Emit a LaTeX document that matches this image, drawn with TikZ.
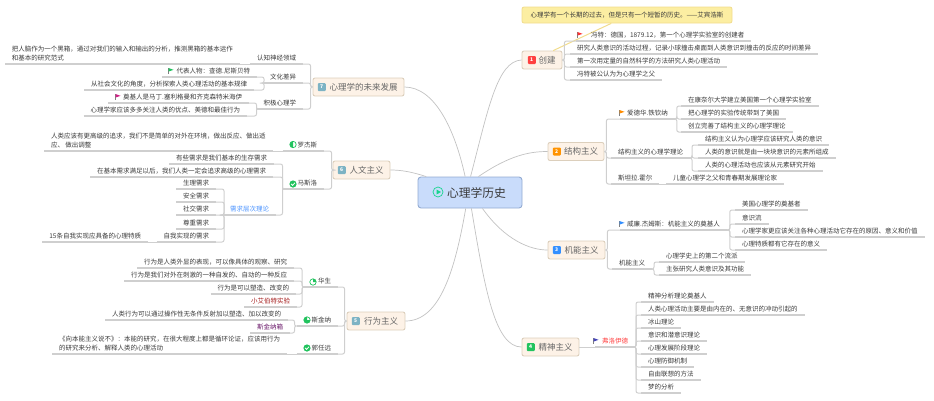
\documentclass[tikz,border=0pt]{standalone}
\usepackage{fontspec}
\setmainfont{Noto Sans CJK SC}
\definecolor{textgray}{HTML}{3A3A3A}
\definecolor{boxtext}{HTML}{666666}
\definecolor{linegray}{HTML}{CFCFCF}
\definecolor{curvegray}{HTML}{C2C2C2}
\definecolor{boxfill}{HTML}{FDF2E7}
\definecolor{boxline}{HTML}{DCCFBC}
\definecolor{mainfill}{HTML}{C9DCFB}
\definecolor{mainline}{HTML}{93ABD2}
\definecolor{notefill}{HTML}{FCEEA2}
\definecolor{noteline}{HTML}{F1DC8C}
\definecolor{iconteal}{HTML}{7DB3C4}
\definecolor{icongreen}{HTML}{22C35E}
\tikzset{
	underlined/.style={font=\fontsize{6.5pt}{9pt}\selectfont, text=textgray, inner xsep=7pt, inner ysep=2.5pt, outer sep=0pt,
		append after command={(\tikzlastnode.south west) edge[draw=linegray, line width=1.1pt] (\tikzlastnode.south east)}},
	leaf/.style={underlined, text height=5.5pt, text depth=1pt},
	twolines/.style={underlined, align=left},
	topic/.style={draw=boxline, line width=.9pt, fill=boxfill, rounded corners=2pt, text=boxtext, font=\fontsize{8.5pt}{10pt}\selectfont, minimum height=18pt, inner sep=0pt},
	marker/.style={rounded corners=1pt, minimum size=8pt, inner sep=0pt, text=white, font=\fontsize{5pt}{6pt}\bfseries\selectfont, anchor=west},
	link/.style={draw=linegray, line width=1pt, rounded corners=2pt},
	curve/.style={draw=curvegray, line width=.7pt},
	flagicon/.pic={
		\draw[gray, line width=.3pt] (-2.5,-3) -- (-2.5,3);
		\fill[#1] (-2.5,-3) -- (2.5,-1.2) -- (-2.5,.6) -- cycle;
	},
	pieicon/.pic={
		\draw[icongreen, line width=.7pt, fill=white] (0,0) circle (3.2pt);
		\fill[icongreen] (0,0) -- (0,-3.2) arc[start angle=90, end angle=#1, radius=3.2pt] -- cycle;
	},
	checkicon/.pic={
		\fill[icongreen] (0,0) circle (3.6pt);
		\draw[white, line width=.8pt] (-1.8,0) -- (-.4,1.4) -- (1.9,-1.2);
	}
}
\begin{document}
\begin{tikzpicture}[x=1pt,y=-1pt]
\useasboundingbox (0,0) rectangle (934,400);
\path
	(470,192.5) node [draw=mainline, line width=.9pt, fill=mainfill, rounded corners=3pt, minimum width=104pt, minimum height=31pt, inner sep=0pt, text=textgray, font=\fontsize{11.8pt}{13pt}\selectfont] (mainbox) {\hspace*{13pt}心理学历史}
	(627,15) node [draw=noteline, line width=.8pt, fill=notefill, rounded corners=2pt, minimum width=210pt, minimum height=16pt, inner sep=0pt, text=textgray, font=\fontsize{6.5pt}{8pt}\selectfont] (note) {心理学有一个长期的过去，但是只有一个短暂的历史。——艾宾浩斯}
	(542,60) node [topic, minimum width=40pt] (chuang) {\hspace*{10pt}创建}
	(576,151.5) node [topic, minimum width=56pt] (jiegou) {\hspace*{10pt}结构主义}
	(576.5,250) node [topic, minimum width=57pt] (jineng) {\hspace*{10pt}机能主义}
	(550.5,347) node [topic, minimum width=57pt] (jingshen) {\hspace*{10pt}精神主义}
	(376,321) node [topic, minimum width=58pt] (xingwei) {\hspace*{10pt}行为主义}
	(361.5,170) node [topic, minimum width=57pt] (renwen) {\hspace*{10pt}人文主义}
	(358.5,87) node [topic, minimum width=91pt] (weilai) {\hspace*{10pt}心理学的未来发展};
\path
	([xshift=6pt]chuang.west) node [marker, fill=red!75!white] (mark1) {1}
	([xshift=5pt]jiegou.west) node [marker, fill=orange!85!yellow] (mark2) {2}
	([xshift=5pt]jineng.west) node [marker, fill=blue!55!cyan!80!white] (mark3) {3}
	([xshift=5pt]jingshen.west) node [marker, fill=icongreen] (mark4) {4}
	([xshift=5pt]xingwei.west) node [marker, fill=iconteal] (mark5) {5}
	([xshift=5pt]renwen.west) node [marker, fill=iconteal] (mark6) {6}
	([xshift=5pt]weilai.west) node [marker, fill=iconteal] (mark7) {7};
\draw[icongreen!70!cyan, line width=.7pt] (438,192) circle (5pt);
\fill[icongreen!70!cyan] (436.5,189.5) -- (441,192) -- (436.5,194.5) -- cycle;

\draw[curve] (mainbox.88) .. controls (488,110) and (497,61) .. (chuang.west);
\draw[curve] (mainbox.62) .. controls (510,155) and (530,151.5) .. (jiegou.west);
\draw[curve] (mainbox.-52) .. controls (505,240) and (530,250) .. (jineng.west);
\draw[curve] (mainbox.-85) .. controls (485,290) and (495,347) .. (jingshen.west);
\draw[curve] (mainbox.-105) .. controls (455,270) and (440,321) .. (xingwei.east);
\draw[curve] (mainbox.160) .. controls (412,172) and (402,170) .. (renwen.east);
\draw[curve] (mainbox.107) .. controls (455,130) and (435,87) .. (weilai.east);
\draw[noteline, line width=1pt] (chuang.40) -- (note.208);

\path
	(576,41) node [leaf, anchor=south west] (wundt) {\hspace*{8pt}冯特：德国，1879.12，第一个心理学实验室的创建者}
	(570,54) node [leaf, anchor=south west] (wa) {研究人类意识的活动过程，记录小球撞击桌面到人类意识到撞击的反应的时间差异}
	(570,67) node [leaf, anchor=south west] (wb) {第一次用定量的自然科学的方法研究人类心理活动}
	(570,80) node [leaf, anchor=south west] (wc) {冯特被公认为为心理学之父};
\draw[link] (chuang.east) -- ++(2,0) |- (wundt.south west);
\draw[link] (chuang.east) -- ++(2,0) |- (wa.south west);
\draw[link] (chuang.east) -- ++(2,0) |- (wb.south west);
\draw[link] (chuang.east) -- ++(2,0) |- (wc.south west);
\pic at (580,35) {flagicon=red!80!white};

\path
	(620,119) node [leaf, anchor=south west] (titch) {爱德华.铁钦纳}
	(681,106) node [leaf, anchor=south west] (ta) {在康奈尔大学建立美国第一个心理学实验室}
	(681,119) node [leaf, anchor=south west] (tb) {把心理学的实验传统带到了美国}
	(681,132) node [leaf, anchor=south west] (tc) {创立完善了结构主义的心理学理论}
	(611,158) node [leaf, anchor=south west] (theory) {结构主义的心理学理论}
	(698,145) node [leaf, anchor=south west] (tha) {结构主义认为心理学应该研究人类的意识}
	(698,158) node [leaf, anchor=south west] (thb) {人类的意识就是由一块块意识的元素所组成}
	(698,171) node [leaf, anchor=south west] (thc) {人类的心理活动也应该从元素研究开始}
	(611,184) node [leaf, anchor=south west] (hall) {斯坦拉.霍尔}
	(666,184) node [leaf, anchor=south west] (halla) {儿童心理学之父和青春期发展理论家};
\draw[link] (jiegou.east) -- ++(2,0) |- (titch.south west);
\draw[link] (jiegou.east) -- ++(2,0) |- (theory.south west);
\draw[link] (jiegou.east) -- ++(2,0) |- (hall.south west);
\draw[link] (titch.south east) -- ++(2,0) |- (ta.south west);
\draw[link] (titch.south east) -- ++(2,0) |- (tb.south west);
\draw[link] (titch.south east) -- ++(2,0) |- (tc.south west);
\draw[link] (theory.south east) -- ++(2,0) |- (tha.south west);
\draw[link] (theory.south east) -- ++(2,0) |- (thb.south west);
\draw[link] (theory.south east) -- ++(2,0) |- (thc.south west);
\draw[link] (hall.south east) -- (halla.south west);
\pic at (622,113) {flagicon=orange!90!yellow};

\path
	(620,230) node [leaf, anchor=south west] (james) {威廉.杰姆斯：机能主义的奠基人}
	(735,210) node [leaf, anchor=south west] (ja) {美国心理学的奠基者}
	(735,224) node [leaf, anchor=south west] (jb) {意识流}
	(735,237) node [leaf, anchor=south west] (jc) {心理学家更应该关注各种心理活动它存在的原因、意义和价值}
	(735,250) node [leaf, anchor=south west] (jd) {心理特质都有它存在的意义}
	(612,269) node [leaf, anchor=south west] (func) {机能主义}
	(659,262) node [leaf, anchor=south west] (fa) {心理学史上的第二个流派}
	(659,275) node [leaf, anchor=south west] (fb) {主张研究人类意识及其功能};
\draw[link] (jineng.east) -- ++(2,0) |- (james.south west);
\draw[link] (jineng.east) -- ++(2,0) |- (func.south west);
\draw[link] (james.south east) -- ++(3,0) |- (ja.south west);
\draw[link] (james.south east) -- ++(3,0) |- (jb.south west);
\draw[link] (james.south east) -- ++(3,0) |- (jc.south west);
\draw[link] (james.south east) -- ++(3,0) |- (jd.south west);
\draw[link] (func.south east) -- ++(2,0) |- (fa.south west);
\draw[link] (func.south east) -- ++(2,0) |- (fb.south west);
\pic at (622,224) {flagicon=blue!55!cyan!80!white};

\path
	(595,347) node [leaf, anchor=south west, text=red!75!white] (freud) {弗洛伊德}
	(641,302) node [leaf, anchor=south west] (fra) {精神分析理论奠基人}
	(641,315) node [leaf, anchor=south west] (frb) {人类心理活动主要是由内在的、无意识的冲动引起的}
	(641,328) node [leaf, anchor=south west] (frc) {冰山理论}
	(641,341) node [leaf, anchor=south west] (frd) {意识和潜意识理论}
	(641,354) node [leaf, anchor=south west] (fre) {心理发展阶段理论}
	(641,367) node [leaf, anchor=south west] (frf) {心理防御机制}
	(641,380) node [leaf, anchor=south west] (frg) {自由联想的方法}
	(641,393) node [leaf, anchor=south west] (frh) {梦的分析};
\draw[link] (jingshen.east) -- (freud.south west);
\draw[link] (freud.south east) -- ++(1,0) |- (fra.south west);
\draw[link] (freud.south east) -- ++(1,0) |- (frb.south west);
\draw[link] (freud.south east) -- ++(1,0) |- (frc.south west);
\draw[link] (freud.south east) -- ++(1,0) |- (frd.south west);
\draw[link] (freud.south east) -- ++(1,0) |- (fre.south west);
\draw[link] (freud.south east) -- ++(1,0) |- (frf.south west);
\draw[link] (freud.south east) -- ++(1,0) |- (frg.south west);
\draw[link] (freud.south east) -- ++(1,0) |- (frh.south west);
\pic at (596,341) {flagicon=blue!45!gray};

\path
	(303,64) node [leaf, anchor=south east] (neuro) {认知神经领域}
	(5,64) node [twolines, anchor=south west] (neuroa) {把人脑作为一个黑箱，通过对我们的输入和输出的分析，推测黑箱的基本运作\\和基本的研究范式}
	(303,83) node [leaf, anchor=south east] (culture) {文化差异}
	(257,77) node [leaf, anchor=south east] (cula) {\hspace*{8pt}代表人物：查德.尼斯贝特}
	(254,90) node [leaf, anchor=south east] (culb) {从社会文化的角度，分析探索人类心理活动的基本规律}
	(303,109) node [leaf, anchor=south east] (positive) {积极心理学}
	(249,103) node [leaf, anchor=south east] (posa) {\hspace*{8pt}奠基人是马丁.塞利格曼和齐克森特米海伊}
	(247,116) node [leaf, anchor=south east] (posb) {心理学家应该多多关注人类的优点、美德和最佳行为};
\draw[link] (weilai.west) -- ++(-2,0) |- (neuro.south east);
\draw[link] (weilai.west) -- ++(-2,0) |- (culture.south east);
\draw[link] (weilai.west) -- ++(-2,0) |- (positive.south east);
\draw[link] (neuro.south west) -- (neuroa.south east);
\draw[link] (culture.south west) -- ++(1,0) |- (cula.south east);
\draw[link] (culture.south west) -- ++(1,0) |- (culb.south east);
\draw[link] (positive.south west) -- ++(0,0) |- (posa.south east);
\draw[link] (positive.south west) -- ++(0,0) |- (posb.south east);
\pic at (171,71) {flagicon=icongreen};
\pic at (118,97) {flagicon=magenta!70!violet};

\path
	(324,151) node [leaf, anchor=south east] (rogers) {\hspace*{8pt}罗杰斯}
	(44,151) node [twolines, anchor=south west] (roga) {人类应该有更高级的追求，我们不是简单的对外在环境，做出反应、做出适\\应、 做出调整}
	(324,189) node [leaf, anchor=south east] (maslow) {\hspace*{8pt}马斯洛}
	(274,164) node [leaf, anchor=south east] (ma) {有些需求是我们基本的生存需求}
	(273,177) node [leaf, anchor=south east] (mb) {在基本需求满足以后，我们人类一定会追求高级的心理需求}
	(276,215) node [leaf, anchor=south east, text=blue!60!cyan!70!white] (need) {需求层次理论}
	(216,189) node [leaf, anchor=south east] (na) {生理需求}
	(216,202) node [leaf, anchor=south east] (nb) {安全需求}
	(216,215) node [leaf, anchor=south east] (nc) {社交需求}
	(216,229) node [leaf, anchor=south east] (nd) {尊重需求}
	(216,242) node [leaf, anchor=south east] (ne) {自我实现的需求}
	(148,242) node [leaf, anchor=south east] (nea) {15条自我实现应具备的心理特质};
\draw[link] (renwen.west) -- ++(-1,0) |- (rogers.south east);
\draw[link] (renwen.west) -- ++(-1,0) |- (maslow.south east);
\draw[link] (rogers.south west) -- (roga.south east);
\draw[link] (maslow.south west) -- ++(0,0) |- (ma.south east);
\draw[link] (maslow.south west) -- ++(0,0) |- (mb.south east);
\draw[link] (maslow.south west) -- ++(0,0) |- (need.south east);
\draw[link] (need.south west) -- ++(1,0) |- (na.south east);
\draw[link] (need.south west) -- ++(1,0) |- (nb.south east);
\draw[link] (need.south west) -- ++(1,0) |- (nc.south east);
\draw[link] (need.south west) -- ++(1,0) |- (nd.south east);
\draw[link] (need.south west) -- ++(1,0) |- (ne.south east);
\draw[link] (ne.south west) -- (nea.south east);
\pic at (293,144.5) {pieicon=270};
\pic at (293,184) {checkicon};

\path
	(338,287) node [leaf, anchor=south east] (watson) {\hspace*{8pt}华生}
	(294,268) node [leaf, anchor=south east] (wsa) {行为是人类外显的表现，可以像具体的观察、研究}
	(294,281) node [leaf, anchor=south east] (wsb) {行为是我们对外在刺激的一种自发的、自动的一种反应}
	(296,294) node [leaf, anchor=south east] (wsc) {行为是可以塑造、改变的}
	(297,307) node [leaf, anchor=south east, text=red!60!black!90!white] (wsd) {小艾伯特实验}
	(338,326) node [leaf, anchor=south east] (skinner) {\hspace*{8pt}斯金纳}
	(288,320) node [leaf, anchor=south east] (ska) {人类行为可以通过操作性无条件反射加以塑造、加以改变的}
	(290,333) node [leaf, anchor=south east, text=violet!70!black!90!white] (skb) {斯金纳箱}
	(338,354) node [leaf, anchor=south east] (guo) {\hspace*{8pt}郭任远}
	(52,354) node [twolines, anchor=south west] (guoa) {《向本能主义说不》：本能的研究，在很大程度上都是循环论证，应该用行为\\的研究来分析、解释人类的心理活动};
\draw[link] (xingwei.west) -- ++(-2,0) |- (watson.south east);
\draw[link] (xingwei.west) -- ++(-2,0) |- (skinner.south east);
\draw[link] (xingwei.west) -- ++(-2,0) |- (guo.south east);
\draw[link] (watson.south west) -- ++(-1,0) |- (wsa.south east);
\draw[link] (watson.south west) -- ++(-1,0) |- (wsb.south east);
\draw[link] (watson.south west) -- ++(-1,0) |- (wsc.south east);
\draw[link] (watson.south west) -- ++(-1,0) |- (wsd.south east);
\draw[link] (skinner.south west) -- ++(-2,0) |- (ska.south east);
\draw[link] (skinner.south west) -- ++(-2,0) |- (skb.south east);
\draw[link] (guo.south west) -- (guoa.south east);
\pic at (313,282) {pieicon=0};
\pic at (307,320) {pieicon=360};
\pic at (307,348) {checkicon};
\end{tikzpicture}
\end{document}
